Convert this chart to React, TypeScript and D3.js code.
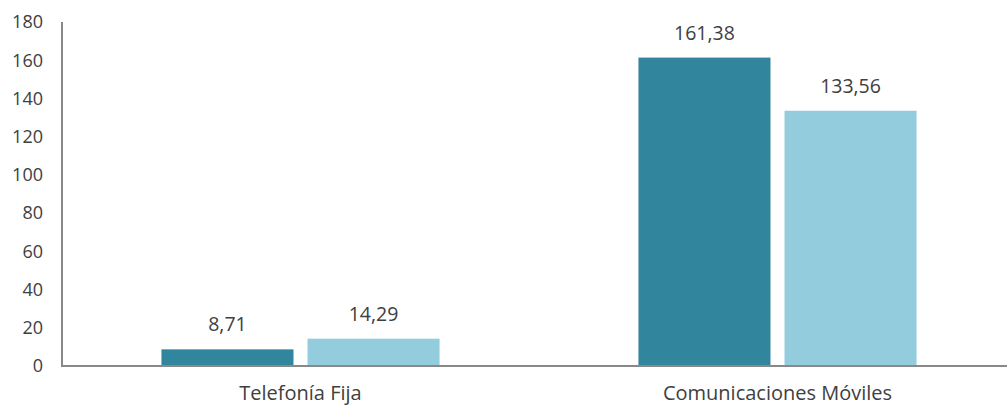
import * as d3 from "d3";
import { useEffect, useRef } from "react";

const categories = ["Telefonía Fija", "Comunicaciones Móviles"];
const seriesA = [8.71, 161.38];
const seriesB = [14.29, 133.56];
const yTicks = [0, 20, 40, 60, 80, 100, 120, 140, 160, 180];

const fmt = (v: number) => v.toFixed(2).replace(".", ",");

const App = () => {
    const svgRef = useRef<SVGSVGElement | null>(null);

    useEffect(() => {
        if (!svgRef.current) return;
        const width = 1007;
        const height = 408;
        const left = 62;
        const base = 366;
        const top = 22;
        const font = "'Open Sans', sans-serif";

        const svg = d3.select(svgRef.current)
            .attr("width", width)
            .attr("height", height);
        svg.selectAll("*").remove();

        const x = d3.scaleBand<string>()
            .domain(categories)
            .range([left, left + 954])
            .paddingInner(0.417)
            .paddingOuter(0.2085);

        const inner = d3.scaleBand<string>()
            .domain(["a", "b"])
            .range([0, x.bandwidth()])
            .paddingInner(0.096);

        const y = d3.scaleLinear().domain([0, 180]).range([base, top]);

        const rows = categories.map((c, i) => ({ c, a: seriesA[i], b: seriesB[i] }));
        const colors: Record<string, string> = { a: "#31859C", b: "#93CDDD" };

        const g = svg.append("g");
        rows.forEach(r => {
            (["a", "b"] as const).forEach(k => {
                const v = r[k];
                const bx = x(r.c)! + inner(k)!;
                g.append("rect")
                    .attr("x", bx)
                    .attr("y", y(v))
                    .attr("width", inner.bandwidth())
                    .attr("height", base - y(v))
                    .attr("fill", colors[k]);
                g.append("text")
                    .attr("x", bx + inner.bandwidth() / 2)
                    .attr("y", y(v) - 18)
                    .attr("text-anchor", "middle")
                    .attr("font-family", font)
                    .attr("font-size", 19.5)
                    .attr("fill", "#404040")
                    .text(fmt(v));
            });
        });

        // y axis
        svg.append("line")
            .attr("x1", left).attr("x2", left)
            .attr("y1", top).attr("y2", base)
            .attr("stroke", "#898989").attr("stroke-width", 2);
        svg.append("g")
            .selectAll("text")
            .data(yTicks)
            .join("text")
            .attr("x", 43)
            .attr("y", d => y(d))
            .attr("dy", "0.35em")
            .attr("text-anchor", "end")
            .attr("font-family", font)
            .attr("font-size", 18)
            .attr("fill", "#404040")
            .text(d => d);

        // x axis
        svg.append("line")
            .attr("x1", left - 1).attr("x2", width)
            .attr("y1", base).attr("y2", base)
            .attr("stroke", "#898989").attr("stroke-width", 2);
        svg.append("g")
            .selectAll("text")
            .data(categories)
            .join("text")
            .attr("x", d => x(d)! + x.bandwidth() / 2)
            .attr("y", 400)
            .attr("text-anchor", "middle")
            .attr("font-family", font)
            .attr("font-size", 20)
            .attr("fill", "#404040")
            .text(d => d);
    }, []);

    return (
        <svg
            ref={svgRef}
            style={{ position: "absolute", left: 0, top: 0, display: "block" }}
        ></svg>
    );
};

export default App;
